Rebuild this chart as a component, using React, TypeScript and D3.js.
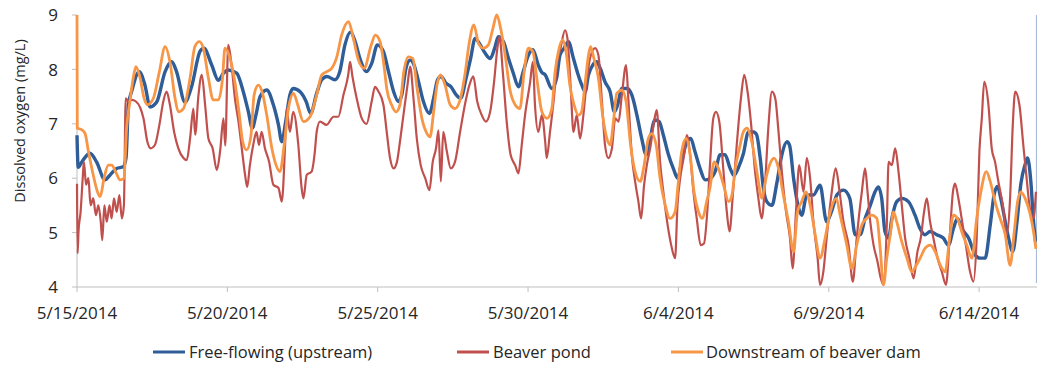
import React from 'react';
import * as d3 from 'd3';

// day offsets from 5/15/2014 00:00, dissolved oxygen in mg/L
const START = Date.UTC(2014, 4, 15);
const DAY = 86400000;

const yTicks = [4, 5, 6, 7, 8, 9];
const xTickDays = [0, 5, 10, 15, 20, 25, 30];
const seriesNames = ['Free-flowing (upstream)', 'Beaver pond', 'Downstream of beaver dam'];
const seriesColors = ['#2F5D98', '#C0504D', '#F79646'];

const freeFlowing = [
  [0, 6.79], [0.04, 6.2], [0.16, 6.3], [0.43, 6.46], [0.65, 6.3], [0.93, 5.97], [1.1, 6.06], [1.32, 6.18],
  [1.54, 6.21], [1.63, 6.37], [1.71, 7.35], [1.82, 7.6], [2.07, 7.96], [2.26, 7.71], [2.43, 7.31], [2.65, 7.4],
  [2.93, 7.96], [3.15, 8.14], [3.31, 7.96], [3.59, 7.4], [3.81, 7.68], [4.09, 8.33], [4.22, 8.39], [4.48, 8.08],
  [4.7, 7.8], [4.87, 7.93], [5.03, 7.99], [5.31, 7.93], [5.53, 7.59], [5.7, 7.22], [5.83, 6.92], [5.95, 7.16],
  [6.09, 7.5], [6.31, 7.62], [6.53, 7.35], [6.7, 6.98], [6.81, 6.67], [6.94, 7.04], [7.08, 7.53], [7.19, 7.65],
  [7.42, 7.59], [7.62, 7.41], [7.77, 7.19], [7.97, 7.56], [8.14, 7.81], [8.31, 7.87], [8.58, 7.81], [8.74, 7.96],
  [8.91, 8.45], [9.1, 8.69], [9.25, 8.51], [9.41, 8.2], [9.63, 7.96], [9.8, 8.11], [9.99, 8.45], [10.12, 8.4],
  [10.19, 8.33], [10.36, 7.96], [10.53, 7.59], [10.69, 7.41], [10.8, 7.53], [10.94, 8.02], [11.08, 8.17], [11.21, 8.08],
  [11.36, 7.77], [11.52, 7.41], [11.72, 7.19], [11.86, 7.47], [11.99, 7.81], [12.11, 7.87], [12.28, 7.74], [12.44, 7.68],
  [12.61, 7.53], [12.76, 7.47], [12.94, 7.84], [13.09, 8.2], [13.24, 8.57], [13.41, 8.45], [13.57, 8.3], [13.74, 8.2],
  [13.89, 8.39], [14.01, 8.6], [14.18, 8.51], [14.35, 8.2], [14.51, 7.93], [14.68, 7.68], [14.84, 7.96], [15.01, 8.26],
  [15.16, 8.36], [15.34, 8.08], [15.45, 7.95], [15.57, 7.9], [15.79, 7.65], [15.95, 7.84], [16.06, 8.26], [16.2, 8.39],
  [16.34, 8.51], [16.51, 8.2], [16.65, 7.93], [16.79, 7.71], [16.9, 7.59], [17.01, 7.9], [17.15, 8.08], [17.28, 8.14],
  [17.4, 8.02], [17.56, 7.77], [17.73, 7.59], [17.87, 7.22], [17.98, 7.35], [18.12, 7.65], [18.31, 7.65], [18.45, 7.53],
  [18.62, 7.16], [18.78, 6.73], [18.93, 6.43], [19.06, 6.73], [19.22, 7.07], [19.36, 7.04], [19.5, 6.79], [19.67, 6.43],
  [19.83, 6.18], [19.98, 6.0], [20.11, 6.3], [20.28, 6.67], [20.41, 6.73], [20.55, 6.49], [20.72, 6.18], [20.89, 5.97],
  [21.05, 5.99], [21.22, 6.12], [21.39, 6.43], [21.55, 6.43], [21.72, 6.18], [21.85, 6.05], [22.0, 6.2], [22.16, 6.45],
  [22.33, 6.85], [22.5, 6.85], [22.6, 6.8], [22.72, 6.37], [22.83, 5.8], [22.94, 5.57], [23.11, 5.5], [23.27, 5.9],
  [23.44, 6.43], [23.61, 6.67], [23.7, 6.6], [23.83, 6.0], [24.0, 5.45], [24.1, 5.32], [24.27, 5.69], [24.49, 5.69],
  [24.71, 5.87], [24.93, 5.2], [25.1, 5.4], [25.27, 5.69], [25.49, 5.78], [25.7, 5.63], [25.88, 4.96], [26.04, 4.96],
  [26.21, 5.26], [26.38, 5.5], [26.54, 5.75], [26.65, 5.84], [26.76, 5.63], [26.87, 5.02], [26.99, 4.9], [27.1, 5.26],
  [27.26, 5.57], [27.43, 5.63], [27.65, 5.57], [27.87, 5.32], [28.03, 5.08], [28.2, 4.96], [28.37, 5.02], [28.59, 4.96],
  [28.81, 4.9], [28.98, 4.77], [29.15, 5.08], [29.28, 5.26], [29.42, 5.08], [29.65, 4.9], [29.87, 4.59], [30.03, 4.53],
  [30.2, 4.53], [30.37, 5.14], [30.5, 5.7], [30.61, 5.85], [30.72, 5.63], [30.87, 5.2], [30.98, 4.9], [31.12, 4.65],
  [31.26, 5.2], [31.39, 5.9], [31.53, 6.25], [31.61, 6.37], [31.72, 5.94], [31.81, 5.2], [31.88, 4.83],
];

const beaverPond = [
  [0, 5.9], [0.02, 4.62], [0.05, 5.02], [0.12, 5.38], [0.19, 6.0], [0.23, 6.3], [0.3, 5.88], [0.38, 6.0],
  [0.45, 5.5], [0.54, 5.63], [0.63, 5.32], [0.71, 5.5], [0.79, 5.2], [0.84, 4.86], [0.91, 5.5], [0.99, 5.2],
  [1.08, 5.5], [1.15, 5.26], [1.23, 5.63], [1.32, 5.38], [1.41, 5.69], [1.49, 5.26], [1.56, 5.5], [1.62, 7.47],
  [1.71, 7.41], [1.82, 7.44], [1.96, 7.41], [2.1, 7.3], [2.21, 7.1], [2.34, 6.67], [2.45, 6.55], [2.59, 6.61],
  [2.74, 6.98], [2.87, 7.41], [2.98, 7.59], [3.09, 7.35], [3.23, 6.85], [3.37, 6.55], [3.54, 6.37], [3.65, 6.33],
  [3.76, 6.73], [3.87, 7.28], [3.93, 6.8], [4.04, 7.53], [4.15, 7.9], [4.26, 7.35], [4.37, 6.73], [4.51, 6.55],
  [4.65, 6.15], [4.76, 6.5], [4.87, 7.1], [4.93, 6.6], [5.03, 8.45], [5.14, 8.08], [5.25, 7.47], [5.37, 7.04],
  [5.48, 6.55], [5.59, 6.06], [5.66, 5.84], [5.75, 6.24], [5.86, 6.61], [5.97, 6.85], [6.05, 6.61], [6.14, 6.85],
  [6.25, 6.55], [6.39, 6.3], [6.53, 5.88], [6.7, 5.82], [6.81, 5.57], [6.92, 6.61], [6.97, 7.28], [7.08, 6.85],
  [7.19, 7.22], [7.36, 6.61], [7.47, 5.82], [7.53, 5.63], [7.64, 6.06], [7.8, 6.12], [7.91, 6.49], [7.97, 6.85],
  [8.08, 7.04], [8.3, 6.98], [8.53, 7.13], [8.69, 7.13], [8.86, 7.53], [9.02, 7.9], [9.08, 8.14], [9.16, 7.87],
  [9.3, 7.47], [9.47, 7.1], [9.63, 7.0], [9.8, 7.41], [9.91, 7.68], [10.02, 7.6], [10.19, 7.35], [10.3, 6.85],
  [10.41, 6.37], [10.53, 6.18], [10.64, 6.3], [10.74, 6.67], [10.87, 7.22], [10.99, 7.71], [11.08, 8.05], [11.19, 7.47],
  [11.3, 6.73], [11.43, 6.24], [11.58, 6.0], [11.72, 5.78], [11.83, 6.3], [11.94, 6.55], [12.02, 6.88], [12.1, 5.94],
  [12.18, 6.85], [12.3, 6.49], [12.43, 6.18], [12.57, 6.3], [12.74, 6.85], [12.9, 7.35], [13.05, 7.71], [13.18, 7.87],
  [13.31, 7.41], [13.46, 7.16], [13.6, 7.04], [13.74, 7.22], [13.87, 7.77], [13.98, 8.39], [14.05, 8.6], [14.16, 7.96],
  [14.29, 7.04], [14.42, 6.43], [14.57, 6.24], [14.68, 6.09], [14.79, 6.61], [14.9, 7.16], [15.07, 7.77], [15.16, 8.14],
  [15.23, 7.35], [15.34, 6.85], [15.46, 7.16], [15.57, 6.67], [15.62, 6.37], [15.73, 6.85], [15.86, 7.47], [15.97, 8.14],
  [16.08, 8.39], [16.23, 8.72], [16.31, 8.57], [16.42, 7.65], [16.51, 6.85], [16.62, 7.16], [16.73, 6.73], [16.84, 7.16],
  [16.95, 7.77], [17.06, 8.2], [17.23, 8.39], [17.34, 8.26], [17.45, 7.47], [17.56, 6.61], [17.67, 6.37], [17.79, 6.55],
  [17.9, 7.1], [18.01, 7.04], [18.12, 7.53], [18.26, 8.08], [18.34, 7.41], [18.45, 6.43], [18.56, 5.94], [18.67, 5.57],
  [18.76, 5.26], [18.86, 5.88], [18.95, 6.24], [19.08, 6.61], [19.19, 7.04], [19.28, 7.25], [19.39, 6.3], [19.5, 5.75],
  [19.61, 5.26], [19.76, 4.77], [19.89, 4.53], [19.97, 5.51], [20.06, 6.0], [20.19, 6.43], [20.28, 6.79], [20.39, 6.43],
  [20.5, 5.75], [20.61, 5.26], [20.74, 4.77], [20.85, 4.8], [20.96, 5.38], [21.05, 6.24], [21.16, 7.1], [21.25, 7.22],
  [21.36, 7.04], [21.5, 6.12], [21.61, 5.38], [21.7, 5.02], [21.81, 5.69], [21.94, 6.61], [22.08, 7.47], [22.19, 7.9],
  [22.3, 7.59], [22.41, 7.04], [22.55, 6.12], [22.66, 5.63], [22.77, 5.26], [22.88, 5.88], [22.99, 6.92], [23.11, 7.59],
  [23.22, 7.47], [23.33, 6.85], [23.44, 6.12], [23.58, 5.38], [23.71, 4.9], [23.8, 4.34], [23.91, 5.38], [24.02, 6.24],
  [24.16, 5.75], [24.27, 6.37], [24.38, 6.0], [24.49, 5.2], [24.63, 4.53], [24.71, 4.04], [24.82, 4.28], [24.93, 4.9],
  [25.1, 5.75], [25.23, 6.18], [25.36, 5.75], [25.49, 5.2], [25.66, 4.77], [25.8, 4.1], [25.93, 4.9], [26.1, 5.75],
  [26.21, 6.18], [26.29, 5.75], [26.38, 5.2], [26.49, 4.77], [26.62, 4.47], [26.73, 4.16], [26.82, 4.04], [26.93, 5.14],
  [26.99, 6.3], [27.1, 6.24], [27.21, 6.55], [27.32, 6.12], [27.43, 5.5], [27.54, 4.9], [27.68, 4.53], [27.82, 4.16],
  [27.95, 4.65], [28.06, 4.9], [28.17, 5.38], [28.26, 5.63], [28.37, 5.2], [28.48, 4.9], [28.62, 4.53], [28.76, 4.28],
  [28.9, 4.04], [29.02, 4.9], [29.13, 5.75], [29.2, 5.9], [29.31, 5.63], [29.42, 5.26], [29.56, 4.77], [29.7, 4.28],
  [29.81, 4.1], [29.92, 4.9], [30.01, 6.49], [30.09, 7.1], [30.17, 7.77], [30.31, 7.35], [30.42, 6.55], [30.53, 6.3],
  [30.64, 5.94], [30.79, 5.5], [30.92, 4.96], [31.03, 5.63], [31.12, 6.98], [31.2, 7.59], [31.34, 7.35], [31.47, 6.61],
  [31.58, 6.0], [31.69, 5.44], [31.81, 5.26], [31.89, 5.75],
];

const downstream = [
  [0, 9.0], [0.01, 6.92], [0.16, 6.89], [0.27, 6.82], [0.38, 6.49], [0.54, 6.06], [0.68, 5.75], [0.77, 5.66],
  [0.9, 6.0], [1.04, 6.24], [1.15, 6.24], [1.3, 6.1], [1.43, 5.97], [1.56, 6.0], [1.65, 6.92], [1.76, 7.41],
  [1.87, 7.84], [1.96, 8.05], [2.1, 7.84], [2.23, 7.47], [2.34, 7.35], [2.54, 7.47], [2.74, 7.96], [2.93, 8.42],
  [3.09, 8.14], [3.26, 7.47], [3.37, 7.22], [3.54, 7.28], [3.76, 7.84], [3.92, 8.42], [4.07, 8.51], [4.2, 8.39],
  [4.37, 7.84], [4.53, 7.44], [4.7, 7.44], [4.84, 7.84], [4.92, 8.39], [5.09, 8.2], [5.25, 7.77], [5.4, 7.16],
  [5.51, 6.67], [5.64, 6.52], [5.78, 6.76], [5.89, 7.53], [6.03, 7.71], [6.17, 7.56], [6.31, 7.16], [6.48, 6.55],
  [6.62, 6.24], [6.75, 6.12], [6.89, 6.61], [7.03, 7.28], [7.2, 7.56], [7.34, 7.35], [7.53, 7.04], [7.75, 7.13],
  [7.97, 7.53], [8.14, 7.9], [8.31, 7.96], [8.47, 8.02], [8.64, 8.23], [8.8, 8.63], [9.03, 8.88], [9.19, 8.57],
  [9.36, 8.17], [9.55, 8.02], [9.77, 8.42], [9.92, 8.63], [10.08, 8.51], [10.22, 8.02], [10.3, 7.65], [10.46, 7.35],
  [10.61, 7.22], [10.74, 7.35], [10.87, 7.96], [11.02, 8.23], [11.17, 8.2], [11.31, 7.65], [11.47, 7.1], [11.64, 6.82],
  [11.74, 6.76], [11.86, 7.22], [11.97, 7.71], [12.09, 7.9], [12.24, 7.71], [12.41, 7.35], [12.57, 7.28], [12.74, 7.44],
  [12.9, 7.9], [13.05, 8.51], [13.2, 8.82], [13.35, 8.48], [13.52, 8.39], [13.68, 8.45], [13.83, 8.75], [13.96, 9.0],
  [14.09, 8.75], [14.24, 8.26], [14.4, 7.62], [14.57, 7.35], [14.73, 7.28], [14.87, 7.96], [15.01, 8.39], [15.16, 8.33],
  [15.29, 7.84], [15.46, 7.22], [15.63, 7.1], [15.79, 7.28], [15.9, 7.96], [16.01, 8.33], [16.15, 8.54], [16.28, 8.26],
  [16.39, 7.71], [16.53, 7.35], [16.67, 7.16], [16.78, 7.22], [16.89, 7.71], [17.01, 8.26], [17.08, 8.42], [17.19, 8.2],
  [17.34, 7.84], [17.48, 7.16], [17.62, 6.73], [17.73, 6.61], [17.84, 7.04], [17.95, 7.56], [18.12, 7.62], [18.26, 7.41],
  [18.41, 6.61], [18.56, 6.12], [18.73, 5.94], [18.86, 6.24], [19.0, 6.73], [19.11, 6.82], [19.26, 6.61], [19.39, 6.0],
  [19.56, 5.51], [19.72, 5.26], [19.89, 5.38], [20.0, 5.94], [20.11, 6.49], [20.26, 6.73], [20.39, 6.43], [20.52, 5.75],
  [20.67, 5.38], [20.8, 5.26], [20.94, 5.57], [21.05, 5.82], [21.19, 6.3], [21.33, 6.18], [21.5, 5.88], [21.67, 5.57],
  [21.78, 5.69], [21.89, 6.18], [22.03, 6.55], [22.16, 6.85], [22.28, 6.92], [22.44, 6.67], [22.61, 6.12], [22.78, 5.63],
  [22.89, 5.94], [23.03, 6.24], [23.18, 6.37], [23.33, 6.18], [23.49, 5.69], [23.66, 5.2], [23.83, 4.65], [23.96, 5.38],
  [24.1, 5.57], [24.25, 5.75], [24.38, 5.51], [24.55, 4.96], [24.71, 4.53], [24.88, 4.9], [25.05, 5.38], [25.25, 5.63],
  [25.38, 5.32], [25.6, 4.77], [25.77, 4.34], [25.93, 4.77], [26.1, 5.14], [26.26, 5.26], [26.43, 5.32], [26.6, 5.26],
  [26.71, 4.71], [26.82, 4.04], [26.93, 4.53], [27.06, 5.02], [27.15, 5.38], [27.26, 5.2], [27.43, 4.83], [27.6, 4.53],
  [27.76, 4.28], [27.91, 4.4], [28.04, 4.53], [28.2, 4.71], [28.37, 4.77], [28.54, 4.65], [28.71, 4.4], [28.87, 4.28],
  [29.02, 4.9], [29.15, 5.32], [29.28, 5.26], [29.42, 5.02], [29.59, 4.77], [29.76, 4.53], [29.92, 5.26], [30.06, 5.75],
  [30.24, 6.12], [30.37, 5.94], [30.53, 5.57], [30.7, 5.26], [30.87, 4.96], [31.03, 4.4], [31.17, 5.02], [31.28, 5.57],
  [31.39, 5.75], [31.53, 5.63], [31.68, 5.38], [31.81, 5.02], [31.89, 4.7],
];

const series = [freeFlowing, beaverPond, downstream];
const strokeWidths = [3.4, 2.2, 2.8];

const FONT = '"Open Sans", "DejaVu Sans", sans-serif';
const TEXT = '#262626';
const AXIS = '#BFBFBF';

export default function App() {
  const width = 1037;
  const height = 372;
  const left = 77;
  const top = 15;
  const bottom = 287;
  const pxPerDay = 30.07;

  const x = d3
    .scaleUtc()
    .domain([new Date(START), new Date(START + 32 * DAY)])
    .range([left, left + 32 * pxPerDay]);
  const y = d3.scaleLinear().domain([4, 9]).range([bottom, top]);
  const fmt = d3.utcFormat('%-m/%-d/%Y');
  const toDate = (d: number) => new Date(START + d * DAY);

  const line = d3
    .line<number[]>()
    .x((d) => x(toDate(d[0])))
    .y((d) => y(d[1]))
    .curve(d3.curveMonotoneX);

  const lastDay = freeFlowing[freeFlowing.length - 1][0];

  // legend layout
  const legend = [
    { x: 153, tx: 189 },
    { x: 457, tx: 493 },
    { x: 671, tx: 706 },
  ];
  const legendY = 352;

  return (
    <svg
      width={width}
      height={height}
      style={{ position: 'absolute', left: 0, top: 0, background: '#fff' }}
      fontFamily={FONT}
    >
      <defs>
        <clipPath id="plot">
          <rect x={left - 2} y={top - 2} width={width - left + 2} height={bottom - top + 4} />
        </clipPath>
      </defs>

      {/* axes */}
      <line x1={left} x2={left} y1={top} y2={bottom} stroke={AXIS} strokeWidth={1} />
      <line x1={left} x2={width} y1={bottom} y2={bottom} stroke={AXIS} strokeWidth={1} />
      {yTicks.map((t) => (
        <g key={'y' + t}>
          <line x1={left - 5} x2={left} y1={y(t)} y2={y(t)} stroke={AXIS} />
          <text x={58} y={y(t)} dy="0.36em" textAnchor="end" fontSize={17} fill={TEXT}>
            {t}
          </text>
        </g>
      ))}
      {xTickDays.map((d) => (
        <g key={'x' + d}>
          <line x1={x(toDate(d))} x2={x(toDate(d))} y1={bottom} y2={bottom + 5} stroke={AXIS} />
          <text x={x(toDate(d))} y={319} textAnchor="middle" fontSize={17} fill={TEXT}>
            {fmt(toDate(d))}
          </text>
        </g>
      ))}
      <text
        transform={`translate(25,121) rotate(-90)`}
        textAnchor="middle"
        fontSize={14.5}
        fill={TEXT}
      >
        Dissolved oxygen (mg/L)
      </text>

      {/* right border line */}
      <line
        x1={x(toDate(lastDay)) + 1}
        x2={x(toDate(lastDay)) + 1}
        y1={top}
        y2={bottom - 4}
        stroke="#A9BCD9"
        strokeWidth={1.5}
      />

      {/* series */}
      <g clipPath="url(#plot)">
        {series.map((s, i) => (
          <path
            key={i}
            d={line(s) || ''}
            fill="none"
            stroke={seriesColors[i]}
            strokeWidth={strokeWidths[i]}
            strokeLinejoin="round"
          />
        ))}
      </g>

      {/* legend */}
      {legend.map((l, i) => (
        <g key={'l' + i}>
          <line
            x1={l.x}
            x2={l.x + 32}
            y1={legendY}
            y2={legendY}
            stroke={seriesColors[i]}
            strokeWidth={3}
          />
          <text x={l.tx} y={legendY} dy="0.36em" fontSize={16.5} fill={TEXT}>
            {seriesNames[i]}
          </text>
        </g>
      ))}
    </svg>
  );
}
